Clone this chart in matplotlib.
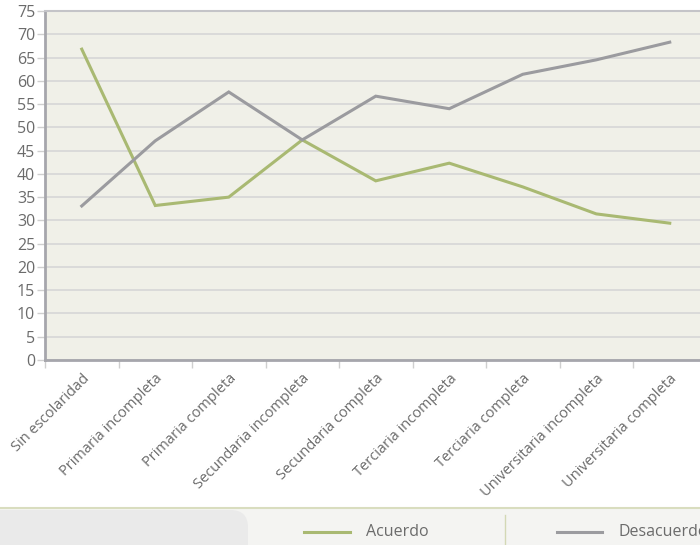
import matplotlib.pyplot as plt
from matplotlib.patches import FancyBboxPatch, Rectangle
from matplotlib.lines import Line2D

# --- Datos ---
categorias = ['Sin escolaridad', 'Primaria incompleta', 'Primaria completa',
              'Secundaria incompleta', 'Secundaria completa', 'Terciaria incompleta',
              'Terciaria completa', 'Universitaria incompleta', 'Universitaria completa']
acuerdo = [66.8, 33.2, 35.0, 47.3, 38.5, 42.3, 37.2, 31.4, 29.4]
desacuerdo = [33.1, 47.1, 57.6, 47.3, 56.7, 54.0, 61.4, 64.5, 68.3]

verde = '#a9b972'
gris = '#9b9b9f'
texto = '#6b6b6b'

plt.rcParams['font.family'] = ['Open Sans', 'DejaVu Sans']

W, H = 700, 545
fig = plt.figure(figsize=(7, 5.45), dpi=100)

# ejes: izquierda 45 px, arriba 11 px, abajo 360 px, ancho 9 categorias de 73.5 px
x0, x1, y_top, y_bot = 45, 45 + 9 * 73.5, 11, 360
ax = fig.add_axes([x0 / W, 1 - y_bot / H, (x1 - x0) / W, (y_bot - y_top) / H])
ax.set_facecolor('#f0f0e8')

x = list(range(len(categorias)))
ax.plot(x, acuerdo, color=verde, lw=2.2, zorder=3, solid_joinstyle='miter')
ax.plot(x, desacuerdo, color=gris, lw=2.2, zorder=3, solid_joinstyle='miter')

ax.set_xlim(-0.5, len(categorias) - 0.5)
ax.set_ylim(0, 75)
ax.set_yticks(range(0, 80, 5))
ax.yaxis.grid(True, color='#d6d6d6', lw=1.2)
ax.set_axisbelow(True)

ax.set_xticks([i - 0.5 for i in x], minor=False)
ax.set_xticklabels([])
ax.set_xticks(x, minor=True)
ax.set_xticklabels(categorias, minor=True, rotation=45, ha='right', va='top',
                   rotation_mode='anchor', fontsize=10.5, color=texto)
ax.tick_params(axis='x', which='minor', length=0, pad=8)
ax.tick_params(axis='x', which='major', length=6, color='#cfcfcf', width=1)
ax.tick_params(axis='y', length=6, color='#cfcfcf', width=1, labelsize=11.5,
               labelcolor=texto, pad=1)

for s in ['left', 'bottom']:
    ax.spines[s].set_color('#a6a6ac')
    ax.spines[s].set_linewidth(2)
ax.spines['top'].set_color('#c4c4c8')
ax.spines['top'].set_linewidth(1.5)
ax.spines['right'].set_visible(False)

# --- Leyenda inferior ---
fig.patches.append(Rectangle((0, 0), 1, 1 - 508 / H, transform=fig.transFigure,
                             facecolor='#f4f4f2', edgecolor='none', zorder=0))
# panel gris con la esquina superior derecha redondeada
fig.patches.append(FancyBboxPatch((-40 / W, -40 / H), 288 / W, (40 + 545 - 510) / H,
                                  boxstyle='round,pad=0,rounding_size=0.025',
                                  transform=fig.transFigure, facecolor='#eaeaea',
                                  edgecolor='none', zorder=1, mutation_aspect=W / H))
fig.add_artist(Line2D([0, 1], [1 - 508 / H] * 2, color='#d9ddbf', lw=1.5))
fig.add_artist(Line2D([505 / W] * 2, [0, 1 - 515 / H], color='#d3d8b5', lw=1))
fig.add_artist(Line2D([304 / W, 350 / W], [1 - 532 / H] * 2, color=verde, lw=2.2))
fig.text(366 / W, 1 - 532 / H, 'Acuerdo', color=texto, fontsize=11.5, va='center')
fig.add_artist(Line2D([557 / W, 602 / W], [1 - 532 / H] * 2, color=gris, lw=2.2))
fig.text(618 / W, 1 - 532 / H, 'Desacuerdo', color=texto, fontsize=11.5, va='center')

fig.savefig('out.png', dpi=100)
